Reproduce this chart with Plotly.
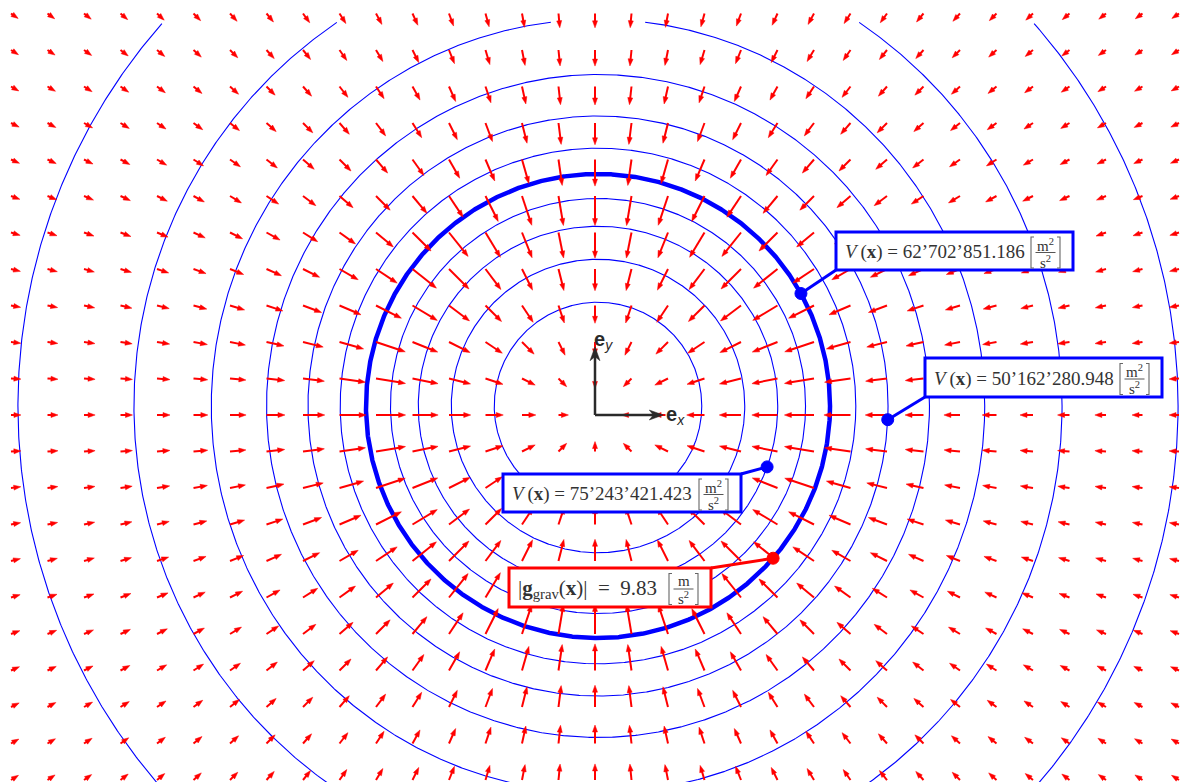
import math
import plotly.graph_objects as go

# ---- physical model -------------------------------------------------------
R_KM = 6357.0                 # polar radius of the Earth [km]
V_SURFACE = 62702851.186      # gravitational potential at the surface [m^2/s^2]
G_SURFACE = 9.83              # field strength at the surface [m/s^2]

# equipotential levels, relative to the surface potential
V_LEVELS_REL = [1.4, 1.3, 1.2, 1.1, 1.0, 0.9, 0.8, 0.7, 0.6, 0.5, 0.4]
THICK_LEVEL = 1.0

# labelled potential values and polar angle [deg] of their markers
V_LABEL_VALUES = [62702851.186, 50162280.948, 75243421.423]
V_LABEL_ANGLES = [29.0, -2.7, -19.8]
G_LABEL_ANGLE = -41.0

# sampling grid of the field [km]
GRID_X = list(range(-16000, 16001, 1000))
GRID_Y = list(range(-10000, 11001, 1000))

# ---- canvas geometry --------------------------------------------------------
W, H = 1182, 782
PX_PER_KM = 36.5 / 1000.0
KM_PER_PX = 1.0 / PX_PER_KM
ORIGIN_PX = (595.0, 415.0)


def kx(px):
    return (px - ORIGIN_PX[0]) * KM_PER_PX


def ky(py):
    return (ORIGIN_PX[1] - py) * KM_PER_PX


CENTER = (kx(598.0), ky(406.0))   # centre of the equipotential circles
CONTOUR_TOP = ky(22.0)            # equipotentials are clipped above this height

BLUE = "#0000FF"
RED = "#FF0000"
INK = "#2a2a2a"
SERIF = "Liberation Serif, Times New Roman, serif"


def rho_of_level(rel):
    """radius (in Earth radii) of the equipotential V = rel * V_SURFACE"""
    if rel <= 1.0:
        return 1.0 / rel
    return math.sqrt(3.0 - 2.0 * rel)


def fmt(v):
    return f"{v:,.3f}".replace(",", "\u2019")


fig = go.Figure()
shapes = []
annotations = []

# ---- equipotential circles -------------------------------------------------
N_SEG = 1440
for lvl in V_LEVELS_REL:
    r = rho_of_level(lvl) * R_KM
    xs, ys = [], []
    for k in range(N_SEG + 1):
        a = 2 * math.pi * k / N_SEG
        y = CENTER[1] + r * math.sin(a)
        if y > CONTOUR_TOP:
            xs.append(None)
            ys.append(None)
        else:
            xs.append(CENTER[0] + r * math.cos(a))
            ys.append(y)
    fig.add_trace(go.Scatter(
        x=xs, y=ys, mode="lines", hoverinfo="skip", showlegend=False,
        line=dict(color=BLUE, width=4.5 if lvl == THICK_LEVEL else 1.1)))

# ---- gravitational field arrows -------------------------------------------
ARROW_BASE_PX = 6.0
ARROW_SCALE_PX = 25.0
HEAD_LEN_PX = 7.0
HEAD_HALF_PX = 2.5

sx, sy, hx, hy = [], [], [], []
for gx in GRID_X:
    for gy in GRID_Y:
        r = math.hypot(gx, gy)
        if r == 0:
            continue
        rho = r / R_KM
        g_rel = rho if rho < 1.0 else 1.0 / rho ** 2
        ux, uy = -gx / r, -gy / r
        px_, py_ = -uy, ux
        L = (ARROW_BASE_PX + ARROW_SCALE_PX * g_rel) * KM_PER_PX
        tx, ty = gx + ux * L, gy + uy * L
        hl = HEAD_LEN_PX * KM_PER_PX
        hw = HEAD_HALF_PX * KM_PER_PX
        bx, by = tx - ux * hl, ty - uy * hl
        sx += [gx, bx + ux * hl * 0.3, None]
        sy += [gy, by + uy * hl * 0.3, None]
        hx += [tx, bx + px_ * hw, bx - px_ * hw, tx, None]
        hy += [ty, by + py_ * hw, by - py_ * hw, ty, None]

fig.add_trace(go.Scatter(x=sx, y=sy, mode="lines", line=dict(color=RED, width=2),
                         hoverinfo="skip", showlegend=False))
fig.add_trace(go.Scatter(x=hx, y=hy, mode="lines", fill="toself", fillcolor=RED,
                         line=dict(color=RED, width=0.5), hoverinfo="skip",
                         showlegend=False))

# ---- basis vectors ---------------------------------------------------------
E_LEN = 1870.0
E_HEAD = 14.0 * KM_PER_PX
E_HALF = 5.0 * KM_PER_PX
E_INSET = 4.0 * KM_PER_PX
bxs, bys, bhx, bhy = [], [], [], []
for ux, uy in [(1.0, 0.0), (0.0, 1.0)]:
    tx, ty = ux * E_LEN, uy * E_LEN
    px_, py_ = -uy, ux
    bx, by = tx - ux * E_HEAD, ty - uy * E_HEAD
    bxs += [0.0, tx - ux * E_HEAD * 0.5, None]
    bys += [0.0, ty - uy * E_HEAD * 0.5, None]
    bhx += [tx, bx + px_ * E_HALF, tx - ux * (E_HEAD - E_INSET), bx - px_ * E_HALF, tx, None]
    bhy += [ty, by + py_ * E_HALF, ty - uy * (E_HEAD - E_INSET), by - py_ * E_HALF, ty, None]

fig.add_trace(go.Scatter(x=bxs, y=bys, mode="lines", line=dict(color=INK, width=2.5),
                         hoverinfo="skip", showlegend=False))
fig.add_trace(go.Scatter(x=bhx, y=bhy, mode="lines", fill="toself", fillcolor=INK,
                         line=dict(color=INK, width=0.5), hoverinfo="skip",
                         showlegend=False))

annotations.append(dict(
    x=kx(665), y=ky(415), xref="x", yref="y", xanchor="left", yanchor="middle",
    text="<b>e</b><sub><i>x</i></sub>", showarrow=False, bgcolor="white", borderpad=0,
    font=dict(family="Liberation Sans, Arial, sans-serif", size=20, color=INK)))
annotations.append(dict(
    x=kx(592), y=ky(340), xref="x", yref="y", xanchor="left", yanchor="middle",
    text="<b>e</b><sub><i>y</i></sub>", showarrow=False,
    font=dict(family="Liberation Sans, Arial, sans-serif", size=20, color=INK)))


# ---- labelled boxes ----------------------------------------------------------
def polar_point(rho, ang):
    a = math.radians(ang)
    return (CENTER[0] + rho * R_KM * math.cos(a), CENTER[1] + rho * R_KM * math.sin(a))


def label_box(x0, y0, x1, y1, color, main_text, numer, corner, dot, size=19):
    shapes.append(dict(type="rect", xref="x", yref="y", layer="above",
                       x0=kx(x0), x1=kx(x1), y0=ky(y0), y1=ky(y1),
                       fillcolor="white", line=dict(color=color, width=3)))
    mid = 0.5 * (y0 + y1)
    annotations.append(dict(
        x=kx(x0 + 7), y=ky(mid + 1), xref="x", yref="y", xanchor="left",
        yanchor="middle", text=main_text, showarrow=False,
        font=dict(family=SERIF, size=size, color="#333333")))
    # bracketed unit fraction
    lb, rb = x1 - 42, x1 - 13
    fc = 0.5 * (lb + rb)
    bar = mid + 1.5
    top, bot = mid - 14, mid + 17
    for xe, d in [(lb, 3), (rb, -3)]:
        shapes.append(dict(
            type="path", xref="x", yref="y", layer="above",
            path=f"M {kx(xe + d)} {ky(top)} L {kx(xe)} {ky(top)} "
                 f"L {kx(xe)} {ky(bot)} L {kx(xe + d)} {ky(bot)}",
            line=dict(color="#666666", width=1.1)))
    shapes.append(dict(type="line", xref="x", yref="y", layer="above",
                       x0=kx(fc - 10), x1=kx(fc + 10), y0=ky(bar), y1=ky(bar),
                       line=dict(color="#555555", width=1)))
    annotations.append(dict(
        x=kx(fc), y=ky(bar - 8), xref="x", yref="y", xanchor="center",
        yanchor="middle", text=numer, showarrow=False,
        font=dict(family=SERIF, size=15, color="#333333")))
    annotations.append(dict(
        x=kx(fc), y=ky(bar + 9), xref="x", yref="y", xanchor="center",
        yanchor="middle", text="s<sup>2</sup>", showarrow=False,
        font=dict(family=SERIF, size=15, color="#333333")))
    # leader line and marker
    shapes.append(dict(type="line", xref="x", yref="y", layer="above",
                       x0=kx(corner[0]), y0=ky(corner[1]), x1=dot[0], y1=dot[1],
                       line=dict(color=color, width=3)))
    rr = 6.0 * KM_PER_PX
    shapes.append(dict(type="circle", xref="x", yref="y", layer="above",
                       x0=dot[0] - rr, x1=dot[0] + rr, y0=dot[1] - rr, y1=dot[1] + rr,
                       fillcolor=color, line=dict(color=color, width=1)))


V_BOXES_PX = [(836, 232, 1073, 270, "bl"), (925, 358, 1162, 397, "bl"), (503, 474, 741, 512, "tr")]
for val, ang, (x0, y0, x1, y1, c) in zip(V_LABEL_VALUES, V_LABEL_ANGLES, V_BOXES_PX):
    dot = polar_point(rho_of_level(val / V_SURFACE), ang)
    corner = (x0, y1) if c == "bl" else (x1, y0)
    label_box(x0, y0, x1, y1, BLUE,
              f"<i>V</i>\u2009(<b>x</b>) = {fmt(val)}", "m<sup>2</sup>", corner, dot)

g_dot = polar_point(1.0, G_LABEL_ANGLE)
label_box(509, 568, 711, 607, RED,
          f"|<b>g</b><sub>grav</sub>(<b>x</b>)|\u00a0\u00a0=\u00a0\u00a0{G_SURFACE:.2f}",
          "m", (711, 568), g_dot, size=21)

fig.update_layout(
    width=W, height=H, margin=dict(l=0, r=0, t=0, b=0),
    paper_bgcolor="white", plot_bgcolor="white", showlegend=False,
    xaxis=dict(range=[kx(0), kx(W)], visible=False, fixedrange=True),
    yaxis=dict(range=[ky(H), ky(0)], visible=False, fixedrange=True),
    shapes=shapes, annotations=annotations,
)

fig.write_html("out.html")
